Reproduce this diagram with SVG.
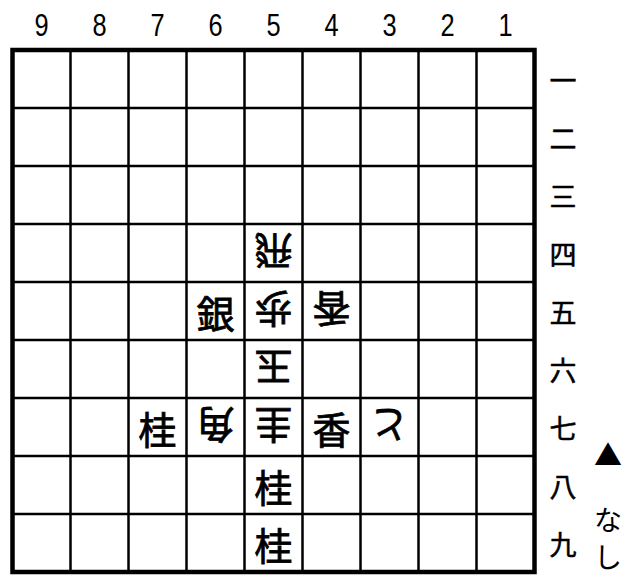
<svg xmlns="http://www.w3.org/2000/svg" width="636" height="582" viewBox="0 0 636 582">
<style>
.bg{fill:#ffffff}
.grid line{stroke:#000;stroke-width:2.5}
.frame{fill:none;stroke:#000;stroke-width:4.5}
.num{font-family:"Liberation Sans","DejaVu Sans",sans-serif;font-size:31px;fill:#000;text-anchor:middle}
.kan{font-family:"Noto Sans CJK JP","Noto Sans CJK SC",sans-serif;font-size:27px;fill:#000;stroke:#000;stroke-width:0.5;text-anchor:middle;dominant-baseline:central}
.pc{font-family:"Noto Sans CJK JP","Noto Sans CJK SC",sans-serif;font-size:38px;fill:#000;stroke:#000;stroke-width:0.8;text-anchor:middle;dominant-baseline:central}
.hand{font-family:"Noto Sans CJK JP","Noto Sans CJK SC",sans-serif;font-size:28px;fill:#000;text-anchor:middle;dominant-baseline:central}
.tri{font-family:"Noto Sans CJK JP","Noto Sans CJK SC",sans-serif;font-size:28px;fill:#000;text-anchor:middle;dominant-baseline:central}
</style>
<rect class="bg" x="0" y="0" width="636" height="582"/>
<g id="board">
<g class="grid">
<line x1="70.5" y1="50" x2="70.5" y2="572"/>
<line x1="128.5" y1="50" x2="128.5" y2="572"/>
<line x1="186.5" y1="50" x2="186.5" y2="572"/>
<line x1="244.5" y1="50" x2="244.5" y2="572"/>
<line x1="302.5" y1="50" x2="302.5" y2="572"/>
<line x1="360.5" y1="50" x2="360.5" y2="572"/>
<line x1="418.5" y1="50" x2="418.5" y2="572"/>
<line x1="476.5" y1="50" x2="476.5" y2="572"/>
<line x1="12.5" y1="108" x2="534.5" y2="108"/>
<line x1="12.5" y1="166" x2="534.5" y2="166"/>
<line x1="12.5" y1="224" x2="534.5" y2="224"/>
<line x1="12.5" y1="282" x2="534.5" y2="282"/>
<line x1="12.5" y1="340" x2="534.5" y2="340"/>
<line x1="12.5" y1="398" x2="534.5" y2="398"/>
<line x1="12.5" y1="456" x2="534.5" y2="456"/>
<line x1="12.5" y1="514" x2="534.5" y2="514"/>
</g>
<rect class="frame" x="12.5" y="50" width="522" height="522"/>
</g>
<g id="file-labels">
<text class="num" x="41.5" y="36" transform="translate(41.5 0) scale(0.82 1) translate(-41.5 0)">9</text>
<text class="num" x="99.5" y="36" transform="translate(99.5 0) scale(0.82 1) translate(-99.5 0)">8</text>
<text class="num" x="157.5" y="36" transform="translate(157.5 0) scale(0.82 1) translate(-157.5 0)">7</text>
<text class="num" x="215.5" y="36" transform="translate(215.5 0) scale(0.82 1) translate(-215.5 0)">6</text>
<text class="num" x="273.5" y="36" transform="translate(273.5 0) scale(0.82 1) translate(-273.5 0)">5</text>
<text class="num" x="331.5" y="36" transform="translate(331.5 0) scale(0.82 1) translate(-331.5 0)">4</text>
<text class="num" x="389.5" y="36" transform="translate(389.5 0) scale(0.82 1) translate(-389.5 0)">3</text>
<text class="num" x="447.5" y="36" transform="translate(447.5 0) scale(0.82 1) translate(-447.5 0)">2</text>
<text class="num" x="505.5" y="36" transform="translate(505.5 0) scale(0.82 1) translate(-505.5 0)">1</text>
</g>
<g id="rank-labels">
<text class="kan" x="563" y="79">一</text>
<text class="kan" x="563" y="137">二</text>
<text class="kan" x="563" y="195">三</text>
<text class="kan" x="563" y="253">四</text>
<text class="kan" x="563" y="311">五</text>
<text class="kan" x="563" y="369">六</text>
<text class="kan" x="563" y="427">七</text>
<text class="kan" x="563" y="485">八</text>
<text class="kan" x="563" y="543">九</text>
</g>
<g id="pieces">
<g id="p54"><text class="pc" x="273.5" y="253" transform="rotate(180 273.5 253)">飛</text></g>
<g id="p65"><text class="pc" x="215.5" y="311">銀</text></g>
<g id="p55"><text class="pc" x="273.5" y="311" transform="rotate(180 273.5 311)">歩</text></g>
<g id="p45"><text class="pc" x="331.5" y="311" transform="rotate(180 331.5 311)">香</text></g>
<g id="p56"><text class="pc" x="273.5" y="369" transform="rotate(180 273.5 369)">玉</text></g>
<g id="p77"><text class="pc" x="157.5" y="427">桂</text></g>
<g id="p67"><text class="pc" x="215.5" y="427" transform="rotate(180 215.5 427)">角</text></g>
<g id="p57"><text class="pc" x="273.5" y="427" transform="rotate(180 273.5 427)">圭</text></g>
<g id="p47"><text class="pc" x="331.5" y="427">香</text></g>
<g id="p37"><text class="pc" x="389.5" y="427" transform="rotate(180 389.5 427)">と</text></g>
<g id="p58"><text class="pc" x="273.5" y="485">桂</text></g>
<g id="p59"><text class="pc" x="273.5" y="543">桂</text></g>
</g>
<g id="hand">
<text class="tri" x="608" y="454">▲</text>
<text class="hand" x="608" y="519">な</text>
<text class="hand" x="608" y="556">し</text>
</g>
</svg>
